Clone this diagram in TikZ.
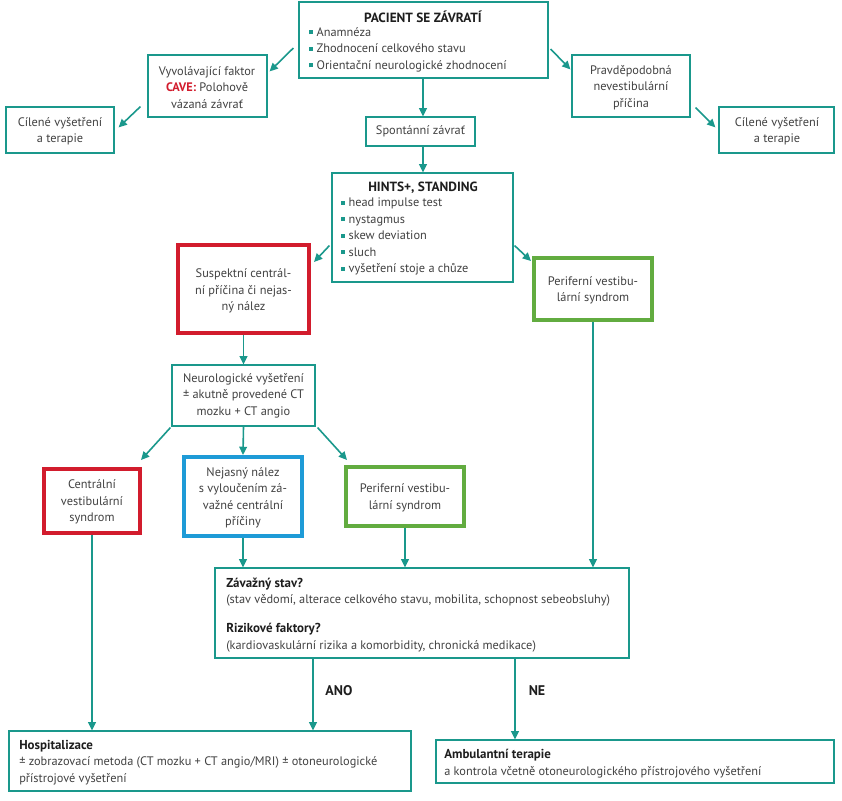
\documentclass[tikz,border=0pt]{standalone}
\usepackage{fontspec}
\setmainfont{PT Sans}
\usetikzlibrary{arrows.meta,calc,fit}
\definecolor{tl}{RGB}{26,152,140}
\definecolor{rd}{RGB}{210,28,45}
\definecolor{gr}{RGB}{98,172,64}
\definecolor{bl}{RGB}{30,155,215}
\definecolor{tx}{RGB}{65,65,65}
\definecolor{tb}{RGB}{30,30,30}
\newcommand\blt{{\color{tl}\rule[0.3ex]{3pt}{3pt}}\hspace{2.5pt}}
\newcommand\hb[1]{{\color{tb}\fontsize{9.7}{12.4}\selectfont\bfseries #1}}
\tikzset{
 bx/.style={draw=tl, line width=0.9pt, inner sep=0pt},
 rbx/.style={draw=rd, line width=3pt, inner sep=0pt},
 gbx/.style={draw=gr, line width=3pt, inner sep=0pt},
 bbx/.style={draw=bl, line width=3pt, inner sep=0pt},
 txt/.style={text=tx, font=\fontsize{9.25}{12.4}\selectfont, align=center, inner sep=0pt},
 ltxt/.style={txt, align=left, anchor=west},
 ttl/.style={txt, text=tb, font=\fontsize{10}{12.4}\selectfont\bfseries},
 arr/.style={draw=tl, line width=1.2pt, -{Triangle[length=6.2pt,width=5.8pt]}},
 yn/.style={text=tb, font=\fontsize{10.5}{12}\selectfont\bfseries, inner sep=0pt},
}
\begin{document}
\begin{tikzpicture}[x=0.75pt,y=-0.75pt]
\useasboundingbox (0,0) rectangle (842,800);
% boxes
\node[bx, fit={(299,2)(548,78)}] (pac) {};
\node[bx, fit={(148,55)(267,117)}] (vyv) {};
\node[bx, fit={(572,55)(690,117)}] (prav) {};
\node[bx, fit={(6,107)(114,153)}] (cil1) {};
\node[bx, fit={(719,107)(834,153)}] (cil2) {};
\node[bx, fit={(366,117)(475,146)}] (spont) {};
\node[bx, fit={(332,173)(513,282)}] (hints) {};
\node[rbx, fit={(178,245)(309,333)}] (susp) {};
\node[gbx, fit={(534,258)(652,320)}] (per1) {};
\node[bx, fit={(172,365)(315,426)}] (neuro) {};
\node[rbx, fit={(44,469)(140,533)}] (cen) {};
\node[bbx, fit={(184,457)(302,536)}] (nej) {};
\node[gbx, fit={(346,467)(464,526)}] (per2) {};
\node[bx, fit={(215,568)(629,658)}] (zav) {};
\node[bx, fit={(9,731)(411,791)}] (hosp) {};
\node[bx, fit={(436,740)(834,783)}] (amb) {};
% texts
\node[ttl] (pac-t) at (423,17) {PACIENT SE ZÁVRATÍ};
\node[ltxt] (pac-l) at (309,49.5) {\blt Anamnéza\\ \blt Zhodnocení celkového stavu\\ \blt Orientační neurologické zhodnocení};
\node[txt] (vyv-t) at (207,87.5) {Vyvolávající faktor\\ {\color{rd}\bfseries CAVE:} Polohově\\ vázaná závrať};
\node[txt] (prav-t) at (631,87.5) {Pravděpodobná\\ nevestibulární\\ příčina};
\node[txt] (cil1-t) at (60,131) {Cílené vyšetření\\ a terapie};
\node[txt] (cil2-t) at (777,131) {Cílené vyšetření\\ a terapie};
\node[txt] (spont-t) at (420.5,131) {Spontánní závrať};
\node[ttl] (hints-t) at (423,188) {HINTS+, STANDING};
\node[ltxt] (hints-l) at (341,236.5) {\blt head impulse test\\ \blt nystagmus\\ \blt skew deviation\\ \blt sluch\\ \blt vyšetření stoje a chůze};
\node[txt] (susp-t) at (243.5,291) {Suspektní centrál-\\ ní příčina či nejas-\\ ný nález};
\node[txt] (per1-t) at (593,290.5) {Periferní vestibu-\\ lární syndrom};
\node[txt] (neuro-t) at (243.5,395.5) {Neurologické vyšetření\\ ± akutně provedené CT\\ mozku + CT angio};
\node[txt] (cen-t) at (92,502) {Centrální\\ vestibulární\\ syndrom};
\node[txt] (nej-t) at (243,498) {Nejasný nález\\ s vyloučením zá-\\ važné centrální\\ příčiny};
\node[txt] (per2-t) at (405,498) {Periferní vestibu-\\ lární syndrom};
\node[ltxt] (zav-t1) at (226,592) {\hb{Závažný stav?}\\ (stav vědomí, alterace celkového stavu, mobilita, schopnost sebeobsluhy)};
\node[ltxt] (zav-t2) at (226,637.5) {\hb{Rizikové faktory?}\\ (kardiovaskulární rizika a komorbidity, chronická medikace)};
\node[ltxt] (hosp-t) at (19,762.5) {\hb{Hospitalizace}\\ ± zobrazovací metoda (CT mozku + CT angio/MRI) ± otoneurologické\\ přístrojové vyšetření};
\node[ltxt] (amb-t) at (444,763.5) {\hb{Ambulantní terapie}\\ a kontrola včetně otoneurologického přístrojového vyšetření};
% arrows
\draw[arr] ($(pac.west)+(-5,8)$) -- ($(vyv.north east)+(2,17)$);
\draw[arr] ($(vyv.south west)+(-7,-11)$) -- ($(cil1.north east)+(4,21)$);
\draw[arr] ($(pac.east)+(2,9)$) -- ($(prav.north west)+(-1,15)$);
\draw[arr] ($(prav.south east)+(5,-10)$) -- ($(cil2.north west)+(-3,21)$);
\draw[arr] (pac.south -| 423,0) -- (spont.north -| 423,0);
\draw[arr] (spont.south -| 423,0) -- (hints.north -| 423,0);
\draw[arr] ($(hints.south west)+(-2,-37)$) -- ($(susp.north east)+(3,19)$);
\draw[arr] ($(hints.south east)+(1,-37)$) -- ($(per1.north west)+(-1,5)$);
\draw[arr] (susp.south) -- (neuro.north -| susp.south);
\draw[arr] ($(neuro.south west)+(-1,1)$) -- ($(cen.north east)+(-1,-7)$);
\draw[arr] (neuro.south) -- (nej.north);
\draw[arr] ($(neuro.south east)+(2,1)$) -- ($(per2.north west)+(3,-5)$);
\draw[arr] (cen.south) -- (hosp.north -| cen.south);
\draw[arr] (nej.south) -- (zav.north -| nej.south);
\draw[arr] (per2.south) -- (zav.north -| per2.south);
\draw[arr] (per1.south) -- (zav.north -| per1.south);
\coordinate (ano) at (313,0);
\coordinate (ne) at (515,0);
\draw[arr] (zav.south -| ano) -- (hosp.north -| ano);
\draw[arr] (zav.south -| ne) -- (amb.north -| ne);
\node[yn] (ano-t) at (339,691) {ANO};
\node[yn] (ne-t) at (537,691) {NE};
\end{tikzpicture}
\end{document}
